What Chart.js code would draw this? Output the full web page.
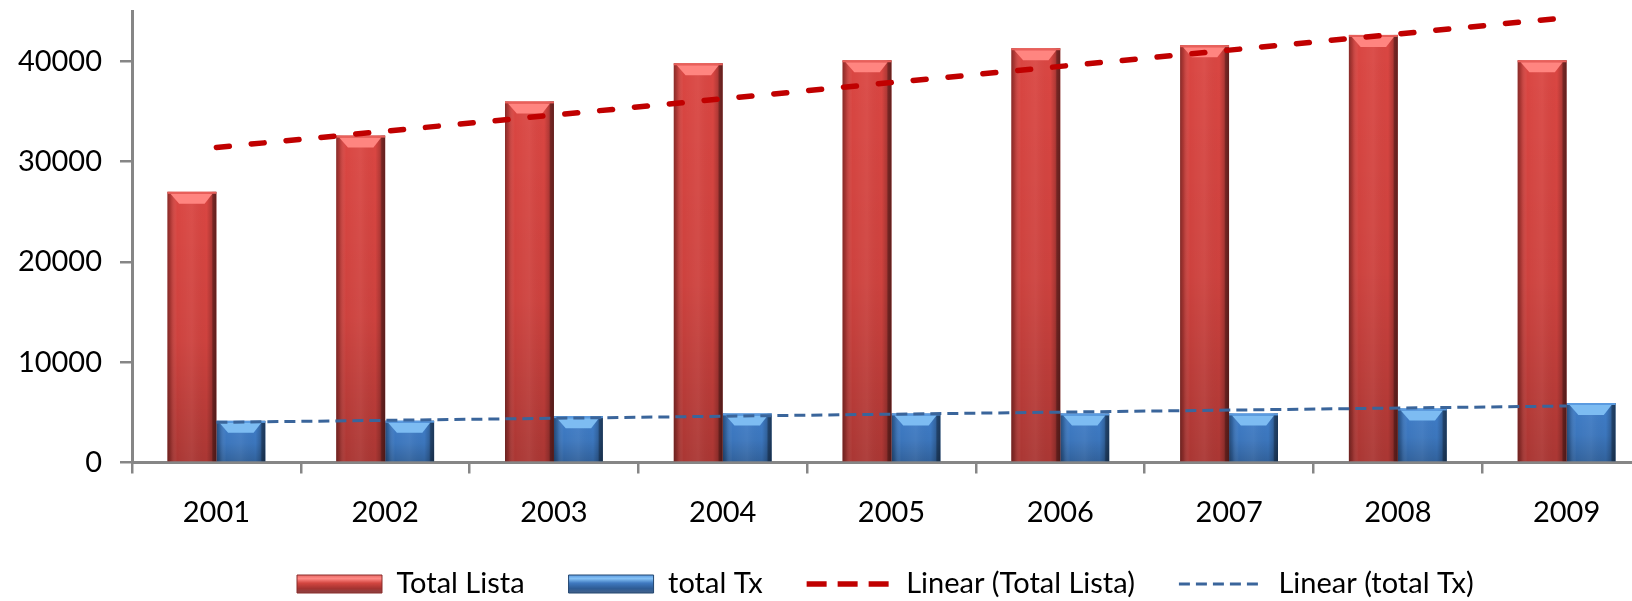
<!DOCTYPE html>
<html>
<head>
<meta charset="utf-8">
<script src="https://cdn.jsdelivr.net/npm/chart.js@4"></script>
<style>
  html, body { margin: 0; padding: 0; background: #fff; overflow: hidden; }
  #wrap { width: 1808px; height: 601px; }
</style>
</head>
<body>
<div id="wrap"><canvas id="c" width="1808" height="601"></canvas></div>
<script>
// ---- data ----
const categories = ['2001', '2002', '2003', '2004', '2005', '2006', '2007', '2008', '2009'];
const totalLista = [26980, 32580, 35990, 39790, 40090, 41290, 41590, 42620, 40090];
const totalTx    = [4150, 4170, 4620, 4890, 4890, 4890, 4890, 5390, 5930];
// linear trend lines: end points (first and last year)
const trendLista = [31400, null, null, null, null, null, null, null, 44330];
const trendTx    = [4000, null, null, null, null, null, null, null, 5630];
const yTicks = [0, 10000, 20000, 30000, 40000];
const yMax = 45000;
const seriesNames = ['Total Lista', 'total Tx', 'Linear (Total Lista)', 'Linear (total Tx)'];

const FONT = 'Lato';
const AXIS = '#868686';

const barShade = {
  id: 'barShade',
  afterDatasetDraw(chart, args) {
    const meta = args.meta;
    if (meta.type !== 'bar') return;
    const ds = chart.data.datasets[args.index];
    const ctx = chart.ctx;
    const ca = chart.chartArea;
    ctx.save();
    ctx.beginPath();
    ctx.rect(ca.left, ca.top - 2, ca.right - ca.left, ca.bottom - ca.top + 2);
    ctx.clip();
    meta.data.forEach(el => {
      const p = el.getProps(['x', 'y', 'base', 'width'], true);
      const w = p.width, left = p.x - w / 2, top = p.y, h = p.base - p.y;
      let g = ctx.createLinearGradient(0, top, 0, p.base);
      g.addColorStop(0, 'rgba(0,0,0,0)');
      g.addColorStop(0.55, 'rgba(0,0,0,0.06)');
      g.addColorStop(1, 'rgba(0,0,0,0.22)');
      ctx.fillStyle = g;
      ctx.fillRect(left, top, w, h);
      g = ctx.createLinearGradient(left, 0, left + w, 0);
      g.addColorStop(0, 'rgba(0,0,0,0.38)');
      g.addColorStop(0.07, 'rgba(0,0,0,0.18)');
      g.addColorStop(0.2, 'rgba(255,255,255,0)');
      g.addColorStop(0.5, 'rgba(255,255,255,0.05)');
      g.addColorStop(0.8, 'rgba(0,0,0,0)');
      g.addColorStop(0.9, 'rgba(0,0,0,0.18)');
      g.addColorStop(0.93, 'rgba(0,0,0,0.45)');
      g.addColorStop(1, 'rgba(0,0,0,0.55)');
      ctx.fillStyle = g;
      ctx.fillRect(left, top, w, h);
      const bh = Math.min(12, h * 0.5);
      ctx.fillStyle = ds.bevelColor;
      ctx.beginPath();
      ctx.moveTo(left + 3, top + 2);
      ctx.lineTo(left + w - 4, top + 2);
      ctx.lineTo(left + w - w * 0.24, top + bh);
      ctx.lineTo(left + w * 0.24, top + bh);
      ctx.closePath();
      ctx.fill();
      ctx.fillStyle = ds.rimColor;
      ctx.fillRect(left, top, w, 2);
    });
    ctx.restore();
  },
  afterUpdate(chart) {
    const lg = chart.legend;
    if (!lg || !lg.lineWidths) return;
    const P = lg.options.labels.padding;
    const itemH = lg.options.labels.font.size;
    lg.top = 584 - P - itemH / 2;
    lg.bottom = 601;
    lg.height = lg.bottom - lg.top;
    const start = (lg.left + P + lg.right - lg.lineWidths[0]) / 2;
    const d = 297 - start;
    lg.left += d; lg.right += d;
    const cy = 584;
    lg.legendItems.forEach(it => {
      const ds = chart.data.datasets[it.datasetIndex];
      if (ds.type !== 'line') {
        const g = chart.ctx.createLinearGradient(0, cy - 9, 0, cy + 9);
        ds.legendStops.forEach(s => g.addColorStop(s[0], s[1]));
        it.fillStyle = g;
      }
    });
  }
};

const chart = new Chart(document.getElementById('c'), {
  data: {
    labels: categories,
    datasets: [
      {
        type: 'bar', label: seriesNames[0], data: totalLista, order: 1,
        backgroundColor: '#DA4642', borderWidth: 0,
        bevelColor: '#FF8580', rimColor: '#E8605B',
        legendStroke: '#8A2C2A',
        legendStops: [[0, '#E86A66'], [0.2, '#FF8A86'], [0.45, '#D24640'], [0.75, '#A43331'], [1, '#8A4444']]
      },
      {
        type: 'bar', label: seriesNames[1], data: totalTx, order: 1,
        backgroundColor: '#3F7DC8', borderWidth: 0,
        bevelColor: '#7DBCF2', rimColor: '#5B9BE0',
        legendStroke: '#23466F',
        legendStops: [[0, '#5C9AE0'], [0.2, '#86C2F5'], [0.45, '#3F79C0'], [0.75, '#2E5C95'], [1, '#44628A']]
      },
      {
        type: 'line', label: seriesNames[2], data: trendLista, order: 0, spanGaps: true,
        borderColor: '#C00000', borderWidth: 5.5, borderDash: [13, 22], borderCapStyle: 'round',
        pointRadius: 0, fill: false
      },
      {
        type: 'line', label: seriesNames[3], data: trendTx, order: 0, spanGaps: true,
        borderColor: '#3A659B', borderWidth: 3, borderDash: [11, 6], borderCapStyle: 'butt',
        pointRadius: 0, fill: false
      }
    ]
  },
  options: {
    responsive: false,
    animation: false,
    devicePixelRatio: 1,
    layout: { padding: { left: 0, right: 157, top: 11, bottom: 0 } },
    datasets: { bar: { categoryPercentage: 0.58, barPercentage: 1.0 } },
    scales: {
      x: {
        type: 'category',
        offset: true,
        grid: { offset: true, drawOnChartArea: false, drawTicks: true, tickLength: 11, color: AXIS, lineWidth: 2.5 },
        border: { display: true, color: AXIS, width: 3 },
        ticks: { font: { family: FONT, size: 29 }, color: '#000', padding: 22, maxRotation: 0 },
        afterFit(scale) { scale.height = 78.5; scale.paddingLeft = 0; scale.paddingRight = 0; }
      },
      y: {
        min: 0, max: yMax,
        grid: { drawOnChartArea: false, drawTicks: true, tickLength: 12, color: AXIS, lineWidth: 2.5 },
        border: { display: true, color: AXIS, width: 3 },
        ticks: { font: { family: FONT, size: 29 }, color: '#000', padding: 18, callback: v => String(v) },
        afterBuildTicks(scale) { scale.ticks = yTicks.map(v => ({ value: v })); },
        afterFit(scale) { scale.width = 132; scale.paddingTop = 0; scale.paddingBottom = 0; }
      }
    },
    plugins: {
      tooltip: { enabled: false },
      legend: {
        display: true,
        position: 'bottom',
        align: 'center',
        maxHeight: 60,
        labels: {
          usePointStyle: true,
          pointStyleWidth: 85,
          boxHeight: 18,
          padding: 44,
          color: '#000',
          font: { family: FONT, size: 29 },
          sort: (a, b) => a.datasetIndex - b.datasetIndex,
          generateLabels(chart) {
            const items = Chart.defaults.plugins.legend.labels.generateLabels(chart);
            items.forEach(it => {
              const ds = chart.data.datasets[it.datasetIndex];
              if (ds.type === 'line') {
                it.pointStyle = 'line';
                it.fillStyle = 'rgba(0,0,0,0)';
                it.strokeStyle = ds.borderColor;
                it.lineWidth = ds.borderWidth;
                it.lineDash = ds.borderWidth > 4 ? [20, 11] : ds.borderDash;
                it.lineCap = 'butt';
              } else {
                it.pointStyle = 'rect';
                it.fillStyle = ds.backgroundColor;
                it.strokeStyle = ds.legendStroke;
                it.lineWidth = 1;
                it.lineDash = [];
              }
            });
            return items;
          }
        }
      }
    }
  },
  plugins: [barShade]
});
</script>
</body>
</html>
